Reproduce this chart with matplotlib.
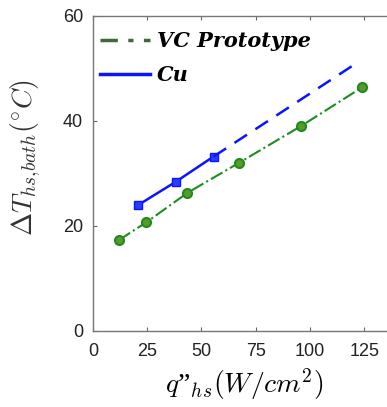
import matplotlib
matplotlib.use("Agg")
import matplotlib.pyplot as plt
from matplotlib.lines import Line2D

plt.rcParams['mathtext.fontset'] = 'cm'

# data
vc_q = [12.0, 24.7, 43.6, 67.3, 95.9, 124.1]
vc_dt = [17.3, 20.7, 26.3, 32.0, 39.0, 46.4]
cu_q = [20.6, 38.2, 55.6]
cu_dt = [23.9, 28.4, 33.2]
cu_ext_q = [55.6, 121.5]
cu_ext_dt = [33.2, 51.0]

xticks = [0, 25, 50, 75, 100, 125]
yticks = [0, 20, 40, 60]

fig = plt.figure(figsize=(3.87, 4.07), dpi=100)
ax = fig.add_axes([0.240, 0.187, 0.785, 0.774])

green = '#1e8c1e'
blue = '#0a14ff'

ax.plot(vc_q, vc_dt, linestyle='-.', color=green, lw=1.5, marker='o',
        markersize=6.5, markerfacecolor='#5a9a2a', markeredgecolor=green, markeredgewidth=1.5)
ax.plot(cu_q, cu_dt, '-', color=blue, lw=1.8, marker='s', markersize=5.5,
        markerfacecolor='#2a3cff', markeredgecolor=blue)
ax.plot(cu_ext_q, cu_ext_dt, '--', color=blue, lw=1.8, dashes=(6, 4))

ax.set_xlim(0, 140)
ax.set_ylim(0, 60)
ax.set_xticks(xticks)
ax.set_yticks(yticks)
ax.tick_params(direction='in', length=3, top=True, right=True, labelsize=13,
               color='#666666', labelcolor='#222222')
ax.tick_params(axis='x', pad=9)
ax.tick_params(axis='y', pad=7)
for lab in ax.get_xticklabels() + ax.get_yticklabels():
    lab.set_family('Liberation Sans')
for s in ax.spines.values():
    s.set_color('#777777')
    s.set_linewidth(1.0)

ax.set_xlabel('$q$\u201d$_{hs}(W/cm^2)$', fontsize=20, labelpad=4,
              family='Liberation Serif')
ax.set_ylabel(r'$\Delta T_{hs{,}bath}(^{\circ}C)$', fontsize=20, color='#333333')
ax.yaxis.set_label_coords(-0.165, 0.55)

handles = [Line2D([0], [0], color='#3d6b35', lw=2.5, linestyle='-.', dashes=(5, 3, 1.5, 3)),
           Line2D([0], [0], color=blue, lw=2.5, linestyle='-')]
ax.legend(handles, ['VC Prototype', 'Cu'], loc='upper left', frameon=False,
          bbox_to_anchor=(-0.01, 0.984),
          prop={'family': 'DejaVu Serif', 'style': 'italic', 'weight': 'bold', 'size': 15},
          handlelength=2.4, handletextpad=0.3, borderaxespad=0.3, labelspacing=0.65,
          borderpad=0.2)

fig.savefig('out.png', dpi=100)
